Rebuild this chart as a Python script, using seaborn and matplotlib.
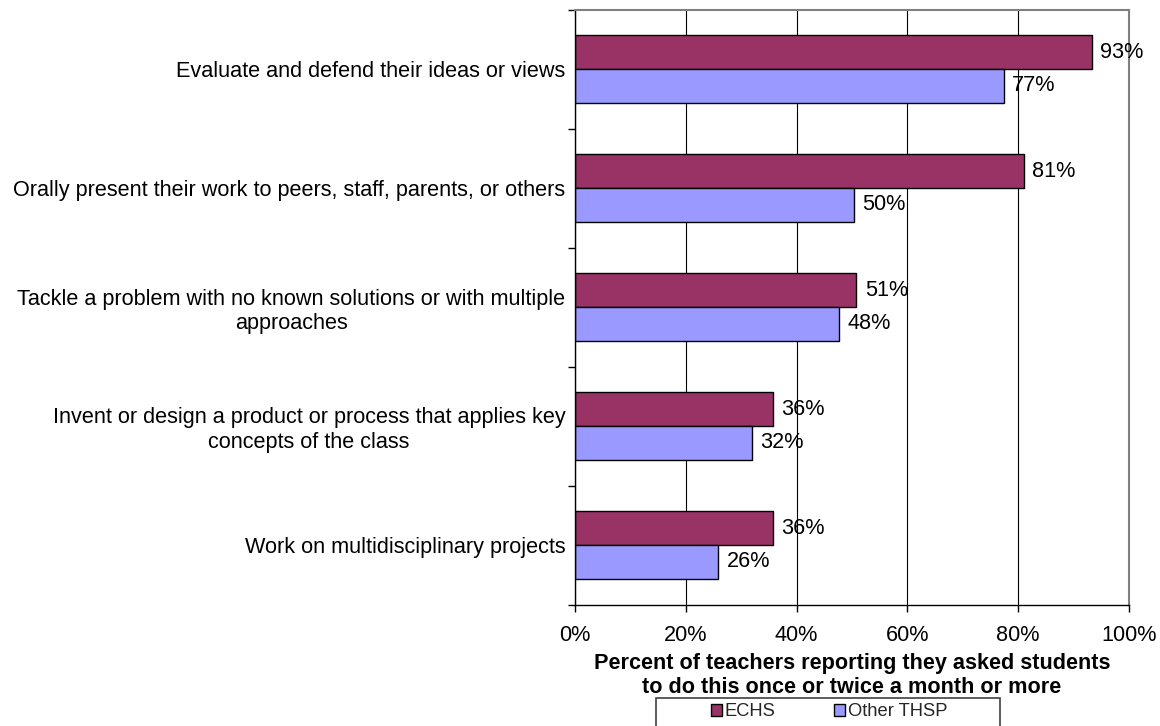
import numpy as np
import pandas as pd
import matplotlib
matplotlib.use("Agg")
import matplotlib.pyplot as plt
from matplotlib.ticker import FixedLocator
from matplotlib.patches import Rectangle
import seaborn as sns

# Survey activities and the share of teachers (percent) in each school group
activities = [
    "Evaluate and defend their ideas or views",
    "Orally present their work to peers, staff, parents, or others",
    "Tackle a problem with no known solutions or with multiple\napproaches",
    "Invent or design a product or process that applies key\nconcepts of the class",
    "Work on multidisciplinary projects",
]
echs = [93.3, 81.0, 50.8, 35.7, 35.7]
other_thsp = [77.4, 50.3, 47.6, 32.0, 25.9]
groups = ["ECHS", "Other THSP"]
x_ticks = [0, 20, 40, 60, 80, 100]
x_title = ("Percent of teachers reporting they asked students\n"
           "to do this once or twice a month or more")

df = pd.DataFrame({
    "activity": activities * 2,
    "pct": echs + other_thsp,
    "group": [groups[0]] * len(activities) + [groups[1]] * len(activities),
})

sns.set_theme(style="white")
plt.rcParams["font.family"] = ["Liberation Sans", "DejaVu Sans"]

FS = 15.6
W, H = 1160, 726
fig = plt.figure(figsize=(W / 100, H / 100), dpi=100)
ax = fig.add_axes([575 / W, (H - 604.5) / H, 554 / W, 595 / H])

sns.barplot(
    data=df, x="pct", y="activity", hue="group", hue_order=groups,
    order=activities, palette=["#993366", "#9999FF"], saturation=1,
    width=0.57, edgecolor="black", linewidth=1.0, orient="h", ax=ax,
)

for cont in ax.containers:
    ax.bar_label(cont, fmt="{:.0f}%", padding=6, fontsize=FS, color="black")

ax.set_xlim(0, 100)
ax.set_ylim(len(activities) - 0.5, -0.5)
ax.set_xticks(x_ticks)
ax.set_xticklabels([f"{v}%" for v in x_ticks], fontsize=FS, color="black")
ax.set_yticks(range(len(activities)))
ax.set_yticklabels(activities, fontsize=FS, color="black")
for lbl in ax.get_yticklabels():
    lbl.set_multialignment("center")
ax.set_ylabel("")
ax.set_xlabel(x_title, fontsize=FS, fontweight="bold", color="black",
              labelpad=5, linespacing=1.17)

# category separators on the left axis
ax.yaxis.set_minor_locator(FixedLocator(np.arange(-0.5, len(activities), 1)))
ax.tick_params(axis="y", which="major", length=0, pad=7)
ax.tick_params(axis="y", which="minor", left=True, length=5, width=1,
               color="black", direction="out")
ax.tick_params(axis="x", which="major", bottom=True, length=5, width=1,
               color="black", direction="out", pad=10)

ax.xaxis.grid(True, color="black", linewidth=0.8)
ax.yaxis.grid(False)
ax.set_axisbelow(True)

for side in ("left", "bottom"):
    ax.spines[side].set_color("black")
    ax.spines[side].set_linewidth(1.0)
for side in ("top", "right"):
    ax.spines[side].set_color("#808080")
    ax.spines[side].set_linewidth(1.5)

handles, labels = ax.get_legend_handles_labels()
if ax.legend_ is not None:
    ax.legend_.remove()
fig.legend(handles, labels, loc="center", ncol=2, frameon=False,
           bbox_to_anchor=(829 / W, 1 - 712 / H), fontsize=13.2,
           handlelength=0.6, handleheight=0.6, handletextpad=0.15,
           columnspacing=3.2, borderpad=0)
fig.patches.append(Rectangle((656 / W, -0.02), 344 / W, 0.02 + (H - 698) / H,
                             transform=fig.transFigure, fill=False,
                             edgecolor="#404040", linewidth=1.2))

fig.savefig("out.png", dpi=100)
